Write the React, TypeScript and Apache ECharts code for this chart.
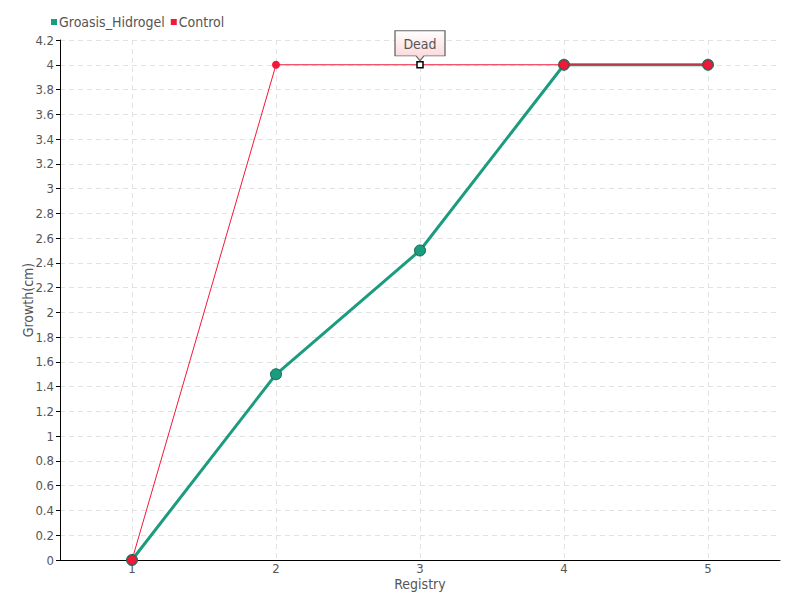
import React, { useEffect, useRef } from "react";
import * as echarts from "echarts";

const categories = ["1", "2", "3", "4", "5"];
const groasisValues = [0, 1.5, 2.5, 4, 4];
const controlValues = [0, 4, 4, 4, 4];
const seriesNames = ["Groasis_Hidrogel", "Control"];
const deadIndex = 2;
const deadLabel = "Dead";

const FONT = "'DejaVu Sans Condensed', sans-serif";
const TEAL = "#1c9c7e";
const RED = "#f2183a";

export default function App() {
  const ref = useRef<HTMLDivElement>(null);
  useEffect(() => {
    if (!ref.current) return;
    const chart = echarts.init(ref.current, null, { renderer: "svg" });
    const controlData = controlValues.map((v, i) => {
      if (i === deadIndex) {
        return {
          value: v,
          symbol: "rect",
          symbolSize: 6,
          itemStyle: { color: "#ffffff", borderColor: "#000000", borderWidth: 1.5 },
        };
      }
      const overlap = groasisValues[i] === v;
      return {
        value: v,
        symbolSize: overlap ? 9 : 8,
        itemStyle: { color: RED, borderColor: overlap ? "#b0102a" : RED, borderWidth: overlap ? 0.5 : 0 },
      };
    });
    chart.setOption({
      animation: false,
      textStyle: { fontFamily: FONT },
      grid: { left: 60, right: 20, top: 40, bottom: 40 },
      legend: {
        left: 46,
        top: 10,
        icon: "rect",
        itemWidth: 6,
        itemHeight: 6,
        itemGap: 6,
        itemStyle: { borderWidth: 0 },
        textStyle: { fontFamily: FONT, fontSize: 14, color: "#555555", padding: [0, 0, 0, -3] },
        data: seriesNames,
      },
      xAxis: {
        type: "category",
        data: categories,
        boundaryGap: true,
        name: "Registry",
        nameLocation: "middle",
        nameGap: 17,
        nameMoveOverlap: false,
        nameTextStyle: { fontFamily: FONT, fontSize: 14, color: "#555555" },
        axisLine: { lineStyle: { color: "#000000", width: 1 } },
        axisTick: { alignWithLabel: true, length: 4, lineStyle: { color: "#555555" } },
        axisLabel: { fontFamily: FONT, fontSize: 13, color: "#555555", margin: 2 },
        splitLine: {
          show: true,
          alignWithLabel: true,
          lineStyle: { color: "#e2e2e2", type: [5, 4], width: 1 },
        },
      },
      yAxis: {
        type: "value",
        min: 0,
        max: 4.2,
        interval: 0.2,
        name: "Growth(cm)",
        nameLocation: "middle",
        nameGap: 25,
        nameMoveOverlap: false,
        nameTextStyle: { fontFamily: FONT, fontSize: 14, color: "#555555" },
        axisLine: { show: true, lineStyle: { color: "#000000", width: 1 } },
        axisTick: { show: true, length: 4, lineStyle: { color: "#000000" } },
        axisLabel: { fontFamily: FONT, fontSize: 13, color: "#555555", margin: 6 },
        splitLine: { show: true, lineStyle: { color: "#e2e2e2", type: [5, 4], width: 1 } },
      },
      series: [
        {
          name: seriesNames[0],
          type: "line",
          data: groasisValues,
          symbol: "circle",
          symbolSize: 11,
          lineStyle: { color: TEAL, width: 3 },
          itemStyle: { color: TEAL, borderColor: "#136650", borderWidth: 1 },
          z: 2,
        },
        {
          name: seriesNames[1],
          type: "line",
          data: controlData,
          symbol: "circle",
          lineStyle: { color: RED, width: 1 },
          itemStyle: { color: RED },
          z: 3,
          markPoint: {
            symbol: "path://M0,0 L50,0 L50,25 L29,25 L25,30 L21,25 L0,25 Z",
            symbolSize: [50, 30],
            symbolKeepAspect: false,
            symbolOffset: [0, -19],
            itemStyle: {
              color: {
                type: "linear",
                x: 0,
                y: 0,
                x2: 0,
                y2: 1,
                colorStops: [
                  { offset: 0, color: "#ffffff" },
                  { offset: 1, color: "#fbd3d6" },
                ],
              },
              borderColor: "#666666",
              borderWidth: 1,
            },
            label: {
              show: true,
              formatter: deadLabel,
              position: "inside",
              offset: [0, -2],
              fontFamily: FONT,
              fontSize: 14,
              color: "#555555",
            },
            data: [{ coord: [deadIndex, controlValues[deadIndex]] }],
          },
        },
      ],
    });
    return () => chart.dispose();
  }, []);
  return <div ref={ref} style={{ width: 800, height: 600, position: "absolute", left: 0, top: 0 }} />;
}
